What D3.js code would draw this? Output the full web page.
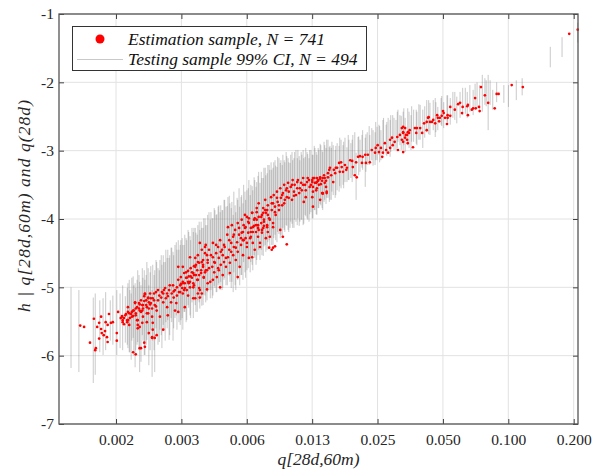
<!DOCTYPE html>
<html><head><meta charset="utf-8">
<script src="https://cdn.jsdelivr.net/npm/d3@7"></script>
<style>body{margin:0;background:#fff}</style>
</head><body><svg id="c" width="603" height="475"></svg>
<script>
// x axis: log2 of q[28d,60m); ticks at q = 0.2 / 2^k
const xTickQ = [0.0015625, 0.003125, 0.00625, 0.0125, 0.025, 0.05, 0.1, 0.2];
const xTickLabels = ["0.002", "0.003", "0.006", "0.013", "0.025", "0.050", "0.100", "0.200"];
const yTicks = [-7, -6, -5, -4, -3, -2, -1];
const yTickLabels = ["-7", "-6", "-5", "-4", "-3", "-2", "-1"];
const xDomain = [-10.194, -2.256];
const yDomain = [-7, -1];

// Estimation sample (red points): log2(q) and h
const estLog2Q = [
-9.87,-9.81,-9.72,-9.63,-9.64,-9.66,-9.55,-9.58,-9.61,-9.55,-9.54,-9.58,-9.49,-9.51,-9.46,-9.45,-9.48,-9.43,-9.45,-9.40,-9.37,-9.31,-9.31,-9.29,-9.25,-9.23,-9.22,-9.20,-9.17,-9.14,-9.14,-9.12,-9.11,-9.08,-9.06,-9.05,-9.03,-9.02,-9.00,-8.99,-8.97,-8.96,-8.94,-8.92,-8.91,-8.88,-8.86,-8.85,-8.83,-8.83,-8.80,-8.79,-8.77,-8.76,-8.92,-8.89,-8.94,-9.06,-9.02,-8.82,-8.77,-8.99,-9.15,
-9.23,-9.22,-9.18,-9.15,-9.14,-9.12,-9.08,-9.06,-9.03,-9.02,-9.00,-8.99,-8.97,-8.94,-8.92,-8.91,-8.91,-8.89,-8.88,-8.86,-8.85,-8.85,-8.83,-8.82,-8.80,-8.79,-8.77,-8.76,-8.74,-8.73,-8.71,-8.70,-8.68,-8.68,-8.66,-8.65,-8.62,-8.60,-8.60,-8.59,-8.56,-8.54,-8.53,-8.51,-8.48,-8.47,-8.45,-8.44,-8.42,-8.40,-8.39,-8.37,-8.36,-8.34,-8.33,-8.31,-8.30,-8.30,-8.28,-8.27,-8.25,-8.24,-8.22,-8.22,-8.21,-8.19,-8.18,-8.16,-8.14,-8.14,-8.13,-8.11,-8.10,-8.08,-8.07,-8.07,-8.05,-8.04,-8.02,-8.01,-7.99,-7.99,-7.98,-7.96,-7.95,-7.93,-7.92,-7.92,-8.37,-8.30,-8.19,-8.27,-8.37,-8.76,-8.77,-8.73,-8.96,-8.88,-8.96,-8.60,-8.04,-8.07,-8.11,-8.70,-8.54,-8.42,
-8.34,-8.30,-8.27,-8.24,-8.22,-8.19,-8.16,-8.14,-8.13,-8.11,-8.08,-8.07,-8.05,-8.02,-8.01,-7.99,-7.98,-7.96,-7.95,-7.93,-7.92,-7.90,-7.88,-7.85,-7.84,-7.84,-7.82,-7.81,-7.79,-7.78,-7.76,-7.76,-7.75,-7.73,-7.72,-7.70,-7.69,-7.69,-7.67,-7.66,-7.64,-7.62,-7.61,-7.61,-7.59,-7.58,-7.56,-7.55,-7.53,-7.53,-7.52,-7.50,-7.49,-7.47,-7.46,-7.46,-7.44,-7.43,-7.41,-7.40,-7.38,-7.38,-7.37,-7.35,-7.34,-7.32,-7.30,-7.30,-7.29,-7.27,-7.26,-7.24,-7.23,-7.23,-7.21,-7.20,-7.18,-7.17,-7.15,-7.15,-7.14,-7.12,-7.10,-7.09,-7.07,-7.07,-7.06,-7.04,-7.03,-7.01,-7.00,-7.00,-6.98,-7.84,-8.04,-7.58,-7.46,-8.14,-7.73,-7.93,
-7.40,-7.38,-7.35,-7.32,-7.32,-7.29,-7.26,-7.24,-7.23,-7.20,-7.18,-7.17,-7.15,-7.14,-7.10,-7.09,-7.07,-7.06,-7.04,-7.03,-7.01,-7.00,-6.98,-6.95,-6.94,-6.92,-6.92,-6.91,-6.89,-6.88,-6.86,-6.85,-6.83,-6.81,-6.80,-6.78,-6.77,-6.75,-6.74,-6.72,-6.71,-6.69,-6.68,-6.65,-6.63,-6.62,-6.60,-6.59,-6.57,-6.55,-6.54,-6.52,-6.49,-6.48,-6.46,-6.45,-6.43,-6.42,-6.40,-6.39,-6.36,-6.32,-6.31,-6.28,-6.25,-6.23,-6.20,-6.17,-6.16,-6.14,-6.11,-6.10,-6.08,-6.92,-6.81,-6.97,-6.77,-7.12,-6.94,-6.92,-7.24,-6.71,-6.89,
-6.32,-6.31,-6.31,-6.26,-6.25,-6.23,-6.20,-6.17,-6.22,-6.25,-6.32,-6.16,-6.13,-6.11,-6.10,-6.08,-6.05,-6.03,-6.00,-5.99,-5.97,-5.94,-5.91,-5.88,-5.87,-5.85,-5.80,-5.79,-5.71,-5.70,-5.67,-5.65,-5.62,-5.59,-5.56,-5.55,-5.50,-5.47,-5.44,-5.41,-5.36,-5.32,-5.30,-5.27,-5.25,-5.24,-5.21,-5.19,-5.16,-5.13,-5.10,-5.09,-5.06,-5.02,-5.01,-4.98,-4.95,-4.93,-4.90,-4.87,-4.86,-6.20,-6.16,-5.64,-6.31,
-4.95,-4.90,-4.93,-4.93,-4.89,-4.87,-4.86,-4.93,-4.78,-4.84,-4.75,-4.72,-4.73,-4.64,-4.61,-4.57,-4.55,-4.54,-4.57,-4.52,-4.49,-4.47,-4.44,-4.41,-4.40,-4.38,-4.34,-4.32,-4.31,-4.29,-4.26,-4.25,-4.25,-4.21,-4.21,-4.09,-4.06,-4.03,-4.02,-3.95,-3.94,-3.88,-3.86,-3.94,-3.83,-3.82,-3.77,-3.76,-3.74,-3.68,-3.63,-3.53,-3.50,-3.47,-4.93,
-2.39,-2.26,-3.27,-3.10,
-9.20,-9.09,-9.02,-8.96,-8.89,-8.82,-8.74,-8.71,-8.63,-8.57,-8.53,-8.50,-8.44,-8.39,-8.33,-8.28,-8.25,-8.21,-8.18,-8.13,-8.10,-8.05,-8.01,-7.96,
-7.90,-7.87,-7.82,-7.79,-7.75,-7.72,-7.67,-7.64,-7.59,-7.56,-7.52,-7.49,-7.44,-7.41,-7.37,-7.34,-7.29,-7.26,-7.21,-7.17,-7.14,-7.09,-7.06,-7.01,
-6.97,-6.94,-6.89,-6.86,-6.83,-6.78,-6.75,-6.71,-6.68,-6.63,-6.60,-6.55,-6.51,-6.46,-6.42,-6.37,-6.34,-6.29,-6.26,-6.19,-6.13,-6.06,
-5.96,-5.90,-5.82,-5.74,-5.51,-5.35,-5.13,-4.83,-4.67,-4.37,-4.14
];
const estH = [
-5.56,-5.58,-5.81,-5.89,-5.92,-5.46,-5.43,-5.52,-5.58,-5.61,-5.67,-5.75,-5.64,-5.70,-5.73,-5.80,-5.51,-5.39,-5.55,-5.52,-5.51,-5.67,-5.78,-5.36,-5.45,-5.42,-5.48,-5.54,-5.39,-5.29,-5.48,-5.38,-5.45,-5.36,-5.42,-5.34,-5.23,-5.38,-5.48,-5.55,-5.31,-5.25,-5.19,-5.34,-5.26,-5.10,-5.19,-5.29,-5.38,-5.15,-5.25,-5.16,-5.31,-5.52,-5.52,-5.81,-5.89,-5.95,-5.98,-5.67,-5.74,-5.60,-5.51,
-5.43,-5.51,-5.41,-5.48,-5.36,-5.55,-5.43,-5.34,-5.22,-5.41,-5.29,-5.48,-5.23,-5.36,-5.26,-5.43,-5.31,-5.20,-5.09,-5.26,-5.38,-5.51,-5.16,-5.31,-5.09,-5.23,-5.43,-5.16,-5.09,-5.26,-5.07,-5.34,-5.19,-5.04,-5.12,-5.43,-5.07,-5.22,-5.09,-5.04,-5.16,-5.09,-5.41,-5.04,-5.22,-5.09,-4.97,-5.15,-5.04,-5.23,-5.00,-4.89,-5.07,-4.97,-4.85,-5.01,-4.92,-5.09,-4.79,-4.94,-4.86,-5.04,-4.76,-4.92,-4.84,-5.00,-4.72,-4.86,-4.79,-4.94,-4.69,-4.57,-4.82,-4.75,-4.89,-4.53,-4.64,-5.04,-4.79,-4.45,-4.70,-4.60,-4.86,-4.41,-4.75,-4.53,-4.94,-4.64,-4.70,-4.70,-4.56,-5.29,-5.36,-5.62,-5.73,-5.74,-5.58,-5.87,-5.89,-5.62,-4.35,-5.09,-5.16,-5.70,-5.29,-5.34,
-5.07,-4.94,-5.01,-4.86,-5.12,-4.92,-4.78,-5.00,-4.82,-4.70,-4.89,-4.63,-5.01,-4.75,-5.09,-4.67,-4.85,-4.50,-4.38,-4.75,-4.60,-4.45,-4.92,-4.70,-4.56,-4.35,-4.78,-4.64,-4.50,-4.85,-4.41,-4.72,-4.57,-4.31,-4.67,-4.45,-4.82,-4.53,-4.63,-4.41,-4.70,-4.23,-4.56,-4.12,-4.45,-4.64,-4.35,-4.09,-4.53,-4.26,-4.41,-4.16,-4.60,-4.34,-4.48,-4.06,-4.23,-4.70,-4.38,-4.01,-4.19,-4.53,-4.31,-3.94,-4.12,-4.41,-4.20,-4.04,-4.57,-4.28,-4.13,-3.91,-4.35,-4.19,-4.01,-4.45,-4.09,-3.90,-4.26,-4.13,-3.97,-4.35,-4.06,-4.20,-3.91,-4.13,-4.01,-3.87,-4.28,-4.09,-3.94,-4.19,-4.42,-4.89,-5.15,-4.79,-4.85,-5.16,-5.00,-5.03,
-4.20,-4.31,-4.13,-3.97,-4.35,-4.06,-4.26,-3.91,-4.12,-3.99,-4.19,-3.84,-4.09,-3.77,-3.97,-4.16,-3.84,-4.04,-3.72,-3.91,-4.12,-3.80,-3.99,-3.68,-3.87,-3.77,-4.06,-3.65,-3.82,-3.94,-3.60,-3.75,-3.87,-3.55,-3.69,-3.80,-3.62,-3.50,-3.72,-3.58,-3.68,-3.47,-3.60,-3.53,-3.72,-3.43,-3.60,-3.50,-3.65,-3.55,-3.43,-3.62,-3.47,-3.58,-3.40,-3.75,-3.50,-3.68,-3.46,-3.40,-3.53,-3.43,-3.60,-3.47,-3.40,-3.44,-3.39,-3.62,-3.40,-3.36,-3.44,-3.60,-3.39,-4.12,-4.16,-4.26,-4.26,-4.41,-4.45,-4.42,-4.56,-4.37,-4.40,
-3.46,-3.40,-3.53,-3.47,-3.46,-3.43,-3.41,-3.44,-3.50,-3.55,-3.68,-3.62,-3.47,-3.53,-3.62,-3.33,-3.25,-3.36,-3.46,-3.28,-3.33,-3.25,-3.18,-3.17,-3.24,-3.31,-3.28,-3.25,-3.15,-3.24,-3.36,-3.17,-3.09,-3.08,-3.18,-3.09,-3.18,-3.06,-3.17,-2.99,-3.03,-2.92,-3.02,-2.96,-3.09,-3.03,-2.89,-2.99,-3.03,-2.96,-2.81,-2.92,-2.87,-2.80,-2.99,-2.77,-2.84,-2.74,-2.81,-2.77,-2.73,-3.72,-3.63,-3.39,-3.82,
-2.67,-2.67,-2.73,-2.87,-2.77,-2.84,-2.89,-3.02,-2.95,-2.74,-2.67,-2.67,-2.74,-2.74,-2.60,-2.58,-2.52,-2.51,-2.70,-2.58,-2.58,-2.55,-2.60,-2.48,-2.52,-2.57,-2.49,-2.42,-2.45,-2.52,-2.61,-2.52,-2.48,-2.49,-2.36,-2.32,-2.30,-2.45,-2.36,-2.35,-2.33,-2.40,-2.38,-2.48,-2.23,-2.38,-2.36,-2.42,-2.07,-2.19,-2.30,-2.38,-2.17,-2.17,-2.65,
-1.29,-1.23,-2.04,-2.07,
-5.45,-5.39,-5.31,-5.34,-5.13,-5.22,-5.19,-5.28,-5.15,-5.01,-5.13,-4.97,-5.06,-5.12,-4.95,-5.04,-4.78,-4.94,-4.84,-4.97,-4.67,-4.82,-4.63,-4.78,
-4.72,-4.53,-4.63,-4.38,-4.75,-4.48,-4.38,-4.57,-4.31,-4.48,-4.23,-4.42,-4.13,-4.28,-4.09,-4.28,-3.99,-4.19,-4.10,-4.01,-4.16,-3.94,-4.10,-3.87,
-4.01,-3.77,-3.90,-3.69,-3.80,-3.65,-3.77,-3.55,-3.69,-3.50,-3.66,-3.46,-3.55,-3.50,-3.58,-3.43,-3.50,-3.40,-3.58,-3.49,-3.40,-3.28,
-3.25,-3.31,-3.21,-3.14,-3.06,-2.96,-2.84,-2.70,-2.67,-2.52,-2.40
];

// Testing sample 99% CI (grey vertical segments): log2(q), lower h, upper h
const ciLog2Q = [
-10.01,-9.89,-9.67,-9.64,-9.57,-9.52,-9.48,-9.41,-9.37,-9.31,-9.26,-9.22,-9.18,
-9.14,-9.11,-9.08,-9.05,-9.03,-9.00,-8.97,-8.94,-8.91,-8.89,-8.86,-8.83,-8.80,-8.77,-8.76,-8.73,-8.70,-8.68,-8.65,-8.62,-8.60,-8.57,-8.54,-8.53,-8.50,-8.47,-8.45,-8.42,-8.39,-8.37,-8.34,
-8.31,-8.30,-8.27,-8.24,-8.22,-8.19,-8.16,-8.14,
-8.11,-8.08,-8.07,-8.04,-8.02,-7.99,-7.96,-7.95,-7.92,-7.88,-7.87,-7.84,-7.81,-7.79,-7.76,-7.73,-7.72,-7.69,-7.66,-7.64,-7.61,-7.58,
-7.56,-7.53,-7.50,-7.49,-7.46,-7.43,-7.41,-7.38,-7.35,-7.34,-7.30,-7.27,-7.26,-7.23,-7.20,-7.18,-7.15,-7.12,-7.10,-7.07,-7.04,-7.03,-7.00,-6.97,-6.95,-6.92,-6.89,-6.88,-6.85,-6.81,
-6.80,-6.77,-6.74,-6.72,-6.69,-6.66,-6.65,-6.62,-6.59,-6.55,-6.54,-6.51,-6.48,-6.46,-6.43,-6.40,-6.37,-6.34,-6.31,-6.28,-6.25,-6.22,-6.19,-6.16,-6.13,-6.10,-6.06,
-6.03,-6.00,-5.97,-5.94,-5.91,-5.88,-5.85,-5.82,-5.79,-5.76,-5.73,-5.70,-5.65,-5.62,-5.59,-5.56,-5.51,-5.48,-5.44,-5.41,-5.36,-5.33,-5.30,-5.27,-5.24,-5.19,-5.16,-5.13,-5.09,-5.04,-5.01,-4.98,
-4.93,-4.90,-4.86,-4.81,-4.77,-4.72,-4.67,-4.63,-4.57,-4.52,-4.47,-4.44,-4.40,-4.35,-4.31,-4.26,-4.21,-4.17,-4.11,-4.06,-4.02,-3.95,-3.91,-3.86,-3.80,-3.76,-3.72,-3.68,-3.63,-3.60,-3.56,-3.50,
-3.39,-3.32,-3.20,-3.11,-2.68,-2.50,-2.26,
-9.15,-9.12,-9.09,-9.06,-9.02,-8.99,-8.96,-8.92,-8.88,-8.85,-8.82,-8.79,-8.74,-8.71,-8.66,-8.63,-8.59,-8.56,-8.51,-8.48,-8.44,-8.40,-8.36,-8.33,-8.28,-8.25,-8.21,-8.18,-8.13,-8.10,-8.05,-8.01,-7.98,-7.93,-7.90,-7.85,-7.82,-7.78,-7.75,-7.70,-7.67,-7.62,-7.59,-7.55,-7.52,-7.47,-7.44,-7.40,-7.37,-7.32,-7.29,-7.24,-7.21,-7.17,-7.14,-7.09,-7.06,-7.01,-6.98,-6.94,-6.91,-6.86,-6.83,-6.78,-6.75,-6.71,-6.68,-6.63,-6.60,-6.57,-6.52,-6.49,-6.45,-6.42,-6.39,-6.36,-6.32,-6.29,-6.26,-6.23,-6.20,-6.17,-6.14,-6.11,-6.08,-6.05,
-6.02,-5.96,-5.90,-5.84,-5.77,-5.71,-5.67,-5.61,-5.55,-5.50,-5.45,-5.39,-5.35,-5.29,-5.23,-5.18,-5.12,-5.07,-5.02,-4.96,-4.92,-4.84,-4.80,-4.73,-4.69,-4.60,-4.54,-4.43,-4.34,-4.25,-4.14,-3.98,-3.83,-3.66
];
const ciLo = [
-6.18,-6.24,-6.40,-6.28,-5.95,-5.99,-5.92,-5.78,-5.84,-5.99,-5.89,-5.92,-5.81,
-5.89,-5.95,-5.78,-6.00,-6.17,-5.84,-5.92,-6.09,-5.78,-5.99,-5.84,-5.70,-5.92,-6.31,-5.78,-6.24,-5.70,-5.84,-5.62,-5.89,-5.55,-5.78,-5.60,-5.48,-5.70,-5.51,-5.78,-5.45,-5.62,-5.36,-5.55,
-5.45,-5.62,-5.36,-5.48,-5.26,-5.41,-5.22,-5.45,
-5.26,-5.36,-5.19,-5.31,-5.16,-5.26,-5.12,-5.22,-5.07,-5.16,-5.04,-5.12,-5.01,-5.07,-4.97,-5.04,-4.92,-5.01,-4.86,-4.97,-4.82,-4.92,
-5.01,-5.07,-4.97,-5.04,-4.89,-4.97,-4.82,-4.89,-4.78,-4.86,-4.72,-4.78,-4.63,-4.75,-4.57,-4.67,-4.53,-4.60,-4.45,-4.54,-4.38,-4.48,-4.34,-4.42,-4.28,-4.38,-4.23,-4.31,-4.19,-4.28,
-4.23,-4.13,-4.19,-4.09,-4.16,-4.13,-4.04,-4.13,-4.01,-4.09,-3.99,-4.04,-4.01,-4.09,-3.94,-3.99,-4.04,-3.90,-3.99,-3.87,-3.94,-3.84,-3.80,-3.87,-3.72,-3.69,-3.75,
-3.72,-3.65,-3.69,-3.58,-3.60,-3.55,-3.50,-3.46,-3.46,-3.43,-3.40,-3.36,-3.72,-3.09,-3.31,-3.25,-3.53,-3.21,-3.17,-3.14,-3.21,-3.14,-3.06,-3.14,-2.99,-3.06,-2.96,-3.09,-2.92,-2.99,-2.87,-2.92,
-2.99,-3.02,-2.92,-2.99,-2.87,-2.92,-2.84,-2.96,-2.73,-2.77,-2.70,-2.80,-2.70,-2.62,-2.67,-2.58,-2.62,-2.52,-2.60,-2.52,-2.48,-2.52,-2.43,-2.48,-2.38,-2.40,-2.43,-2.33,-2.70,-2.33,-2.40,-2.29,
-2.30,-2.36,-2.26,-2.19,-1.78,-1.63,-1.42,
-5.84,-5.95,-6.06,-5.74,-5.92,-5.80,-6.24,-5.70,-5.99,-5.77,-6.14,-5.62,-5.92,-5.60,-5.80,-5.70,-5.62,-5.51,-5.77,-5.45,-5.60,-5.41,-5.51,-5.48,-5.36,-5.51,-5.30,-5.45,-5.19,-5.36,-5.22,-5.27,-5.11,-5.19,-5.04,-5.16,-4.98,-5.07,-4.94,-5.04,-4.89,-4.97,-4.83,-4.92,-4.78,-4.86,-4.72,-4.82,-4.63,-4.75,-4.57,-4.67,-4.53,-4.60,-4.45,-4.53,-4.40,-4.45,-4.31,-4.38,-4.28,-4.34,-4.22,-4.28,-4.16,-4.10,-4.19,-4.07,-4.13,-4.04,-4.10,-4.01,-4.07,-3.96,-4.01,-3.93,-3.99,-3.87,-3.93,-3.84,-3.78,-3.84,-3.75,-3.78,-3.69,-3.72,
-3.60,-3.65,-3.52,-3.55,-3.43,-3.46,-3.37,-3.36,-3.28,-3.31,-3.21,-3.22,-3.14,-3.17,-3.06,-3.08,-3.02,-2.99,-2.96,-2.99,-2.92,-2.96,-2.87,-2.90,-2.84,-2.81,-2.76,-2.73,-2.64,-2.61,-2.55,-2.46,-2.40,-2.35
];
const ciHi = [
-5.00,-5.04,-5.15,-5.09,-5.19,-5.16,-5.07,-5.19,-5.12,-5.04,-5.09,-4.97,-5.13,
-4.94,-5.04,-4.86,-4.97,-4.94,-4.89,-4.82,-4.97,-4.86,-4.75,-4.82,-4.72,-4.78,-5.04,-4.67,-4.75,-4.63,-4.72,-4.60,-4.67,-4.53,-4.63,-4.57,-4.45,-4.53,-4.42,-4.48,-4.38,-4.45,-4.31,-4.38,
-4.28,-4.38,-4.23,-4.31,-4.16,-4.25,-4.13,-4.19,
-4.13,-4.23,-4.09,-4.16,-4.04,-4.13,-3.99,-4.09,-3.94,-4.01,-3.90,-3.99,-3.87,-3.94,-3.82,-3.90,-3.80,-3.87,-3.72,-3.82,-3.68,-3.77,
-3.84,-3.94,-3.80,-3.90,-3.72,-3.82,-3.68,-3.77,-3.60,-3.72,-3.55,-3.65,-3.50,-3.58,-3.43,-3.53,-3.37,-3.47,-3.31,-3.40,-3.25,-3.36,-3.21,-3.28,-3.17,-3.25,-3.14,-3.22,-3.09,-3.18,
-3.14,-3.06,-3.17,-3.02,-3.11,-3.18,-3.06,-3.14,-3.02,-3.11,-2.99,-3.14,-3.06,-2.99,-3.09,-3.02,-3.11,-2.99,-3.06,-2.96,-3.06,-2.99,-2.92,-3.02,-2.92,-2.84,-2.95,
-2.96,-2.92,-2.99,-2.89,-2.93,-2.84,-2.92,-2.81,-2.95,-2.84,-2.89,-2.77,-3.03,-2.80,-2.84,-2.77,-2.81,-2.73,-2.77,-2.67,-2.73,-2.65,-2.62,-2.70,-2.55,-2.62,-2.52,-2.55,-2.48,-2.55,-2.40,-2.48,
-2.43,-2.52,-2.38,-2.48,-2.40,-2.43,-2.33,-2.40,-2.26,-2.30,-2.26,-2.23,-2.36,-2.23,-2.29,-2.19,-2.23,-2.14,-2.21,-2.14,-2.08,-2.14,-2.04,-2.11,-2.00,-2.04,-1.89,-1.94,-1.89,-1.97,-2.11,-2.00,
-2.04,-2.04,-1.97,-1.94,-1.48,-1.34,-1.13,
-5.01,-4.89,-5.09,-4.84,-5.01,-4.75,-4.92,-4.72,-4.89,-4.63,-4.97,-4.69,-4.82,-4.60,-4.75,-4.53,-4.63,-4.45,-4.57,-4.42,-4.53,-4.34,-4.45,-4.31,-4.38,-4.28,-4.19,-4.31,-4.13,-4.20,-4.04,-4.13,-3.99,-4.09,-3.90,-3.99,-3.84,-3.93,-3.80,-3.87,-3.72,-3.81,-3.66,-3.75,-3.60,-3.69,-3.55,-3.65,-3.50,-3.58,-3.43,-3.52,-3.39,-3.46,-3.31,-3.40,-3.25,-3.33,-3.21,-3.28,-3.17,-3.24,-3.11,-3.21,-3.14,-3.08,-3.17,-3.02,-3.11,-2.99,-3.08,-3.02,-3.11,-2.96,-3.05,-2.99,-3.06,-2.93,-3.02,-2.96,-2.90,-2.99,-2.87,-2.96,-2.84,-2.93,
-2.87,-2.93,-2.81,-2.87,-2.77,-2.84,-2.73,-2.79,-2.70,-2.76,-2.64,-2.70,-2.58,-2.64,-2.52,-2.58,-2.48,-2.52,-2.43,-2.49,-2.38,-2.43,-2.35,-2.40,-2.32,-2.35,-2.26,-2.29,-2.20,-2.19,-2.14,-2.08,-2.02,-1.97
];

const legendLabels = ["Estimation sample, N = 741", "Testing sample 99% CI, N = 494"];
const xLabel = "q[28d,60m)";
const yLabel = "h | q[28d,60m) and q(28d)";

const L = 59, R = 578, T = 14, B = 424;
const serif = '"Liberation Serif", "Times New Roman", serif';
const svg = d3.select("#c");
const x = d3.scaleLinear().domain(xDomain).range([L, R]);
const y = d3.scaleLinear().domain(yDomain).range([B, T]);
const xTickV = xTickQ.map(q => Math.log2(q));

// grid
const grid = svg.append("g").attr("stroke", "#e2e2e2").attr("stroke-width", 1);
grid.selectAll("line.gx").data(xTickV).join("line").attr("class", "gx")
  .attr("x1", d => x(d)).attr("x2", d => x(d)).attr("y1", T).attr("y2", B);
grid.selectAll("line.gy").data(yTicks).join("line").attr("class", "gy")
  .attr("x1", L).attr("x2", R).attr("y1", d => y(d)).attr("y2", d => y(d));

// CI segments
svg.append("g").attr("stroke", "#777").attr("stroke-opacity", 0.4).attr("stroke-width", 1)
  .selectAll("line").data(d3.range(ciLog2Q.length)).join("line")
  .attr("x1", i => x(ciLog2Q[i])).attr("x2", i => x(ciLog2Q[i]))
  .attr("y1", i => y(ciLo[i])).attr("y2", i => y(ciHi[i]));

// estimation points
svg.append("g").attr("fill", "#ff0000")
  .selectAll("circle").data(d3.range(estLog2Q.length)).join("circle")
  .attr("cx", i => x(estLog2Q[i])).attr("cy", i => y(estH[i])).attr("r", 1.35);

// axes
const axColor = "#262626";
const gB = svg.append("g").attr("transform", `translate(0,${B})`)
  .call(d3.axisBottom(x).tickValues(xTickV).tickFormat((d, i) => xTickLabels[i]).tickSizeInner(-5).tickSizeOuter(0).tickPadding(10));
const gT = svg.append("g").attr("transform", `translate(0,${T})`)
  .call(d3.axisTop(x).tickValues(xTickV).tickFormat("").tickSizeInner(-5).tickSizeOuter(0));
const gLft = svg.append("g").attr("transform", `translate(${L},0)`)
  .call(d3.axisLeft(y).tickValues(yTicks).tickFormat((d, i) => yTickLabels[i]).tickSizeInner(-5).tickSizeOuter(0).tickPadding(5));
const gRt = svg.append("g").attr("transform", `translate(${R},0)`)
  .call(d3.axisRight(y).tickValues(yTicks).tickFormat("").tickSizeInner(-5).tickSizeOuter(0));
[gB, gT, gLft, gRt].forEach(g => {
  g.select(".domain").remove();
  g.attr("font-family", null).attr("font-size", null);
  g.selectAll(".tick line").attr("stroke", "#404040");
  g.selectAll("text").attr("fill", axColor).style("font-family", serif).style("font-size", "15.5px");
});

svg.append("rect").attr("x", L).attr("y", T).attr("width", R - L).attr("height", B - T)
  .attr("fill", "none").attr("stroke", "#555").attr("stroke-width", 1.3);

// axis labels
svg.append("text").attr("x", (L + R) / 2).attr("y", 465).attr("text-anchor", "middle")
  .style("font-family", serif).style("font-style", "italic").style("font-size", "17.5px").attr("fill", axColor)
  .text(xLabel);
svg.append("text").attr("transform", "translate(30,206) rotate(-90)").attr("text-anchor", "middle")
  .attr("textLength", 212).attr("lengthAdjust", "spacing")
  .style("font-family", serif).style("font-style", "italic").style("font-size", "17.5px").attr("fill", axColor)
  .text(yLabel);

// legend
const lg = svg.append("g");
lg.append("rect").attr("x", 72.5).attr("y", 26.5).attr("width", 294).attr("height", 44)
  .attr("fill", "#fff").attr("stroke", "#333").attr("stroke-width", 1);
lg.append("circle").attr("cx", 100).attr("cy", 39).attr("r", 4.5).attr("fill", "#ff0000");
lg.append("line").attr("x1", 77).attr("x2", 123).attr("y1", 59.5).attr("y2", 59.5)
  .attr("stroke", "#777").attr("stroke-opacity", 0.4);
lg.selectAll("text").data(legendLabels).join("text")
  .attr("x", 128).attr("y", (d, i) => 45 + i * 20)
  .style("font-family", serif).style("font-style", "italic").style("font-size", "17.5px").attr("fill", "#111")
  .text(d => d);
</script>
</body></html>
